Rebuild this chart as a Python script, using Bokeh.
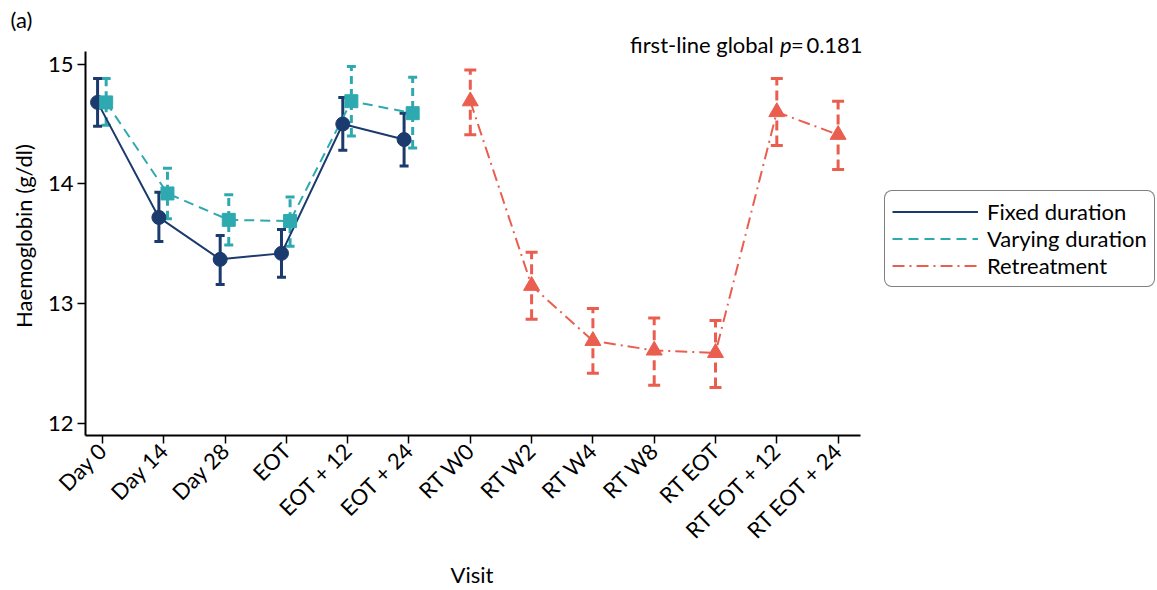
from bokeh.plotting import figure
from bokeh.models import (ColumnDataSource, Whisker, TeeHead, Legend, LegendItem,
                          Label, FixedTicker, Range1d, Title)
from bokeh.embed import file_html
from bokeh.resources import INLINE
import math

visits = ["Day 0", "Day 14", "Day 28", "EOT", "EOT + 12", "EOT + 24",
          "RT W0", "RT W2", "RT W4", "RT W8", "RT EOT", "RT EOT + 12", "RT EOT + 24"]

fixed_mean = [14.68, 13.72, 13.37, 13.42, 14.50, 14.37]
fixed_lo = [14.48, 13.52, 13.16, 13.22, 14.28, 14.15]
fixed_hi = [14.88, 13.93, 13.57, 13.62, 14.72, 14.59]

vary_mean = [14.68, 13.92, 13.70, 13.69, 14.69, 14.59]
vary_lo = [14.49, 13.71, 13.49, 13.48, 14.40, 14.30]
vary_hi = [14.88, 14.13, 13.91, 13.89, 14.98, 14.89]

rt_mean = [14.69, 13.15, 12.69, 12.61, 12.59, 14.60, 14.41]
rt_lo = [14.41, 12.87, 12.42, 12.32, 12.30, 14.32, 14.12]
rt_hi = [14.95, 13.43, 12.96, 12.88, 12.86, 14.88, 14.69]

NAVY = "#1b3a6d"
TEAL = "#2fa9b0"
RED = "#ea5e50"
FONT = "Lato"
FS = "22px"

idx = list(range(len(visits)))
fx = [i - 0.08 for i in idx[:6]]
vx = [i + 0.06 for i in idx[:6]]
rx = idx[6:]

p = figure(width=1157, height=590, output_backend="svg", toolbar_location=None,
           x_range=Range1d(-0.277, 17.21), y_range=Range1d(11.9, 15.23),
           min_border_left=85, min_border_right=0, min_border_top=36,
           min_border_bottom=153)
p.outline_line_color = None
p.grid.grid_line_color = None
p.background_fill_color = "white"

src_f = ColumnDataSource(dict(x=fx, y=fixed_mean, lo=fixed_lo, hi=fixed_hi))
src_v = ColumnDataSource(dict(x=vx, y=vary_mean, lo=vary_lo, hi=vary_hi))
src_r = ColumnDataSource(dict(x=rx, y=rt_mean, lo=rt_lo, hi=rt_hi))

def whisk(src, color, dash, cap):
    w = Whisker(source=src, base="x", upper="hi", lower="lo", dimension="height",
                line_color=color, line_width=3, line_dash=dash,
                upper_head=TeeHead(size=cap, line_color=color, line_width=3),
                lower_head=TeeHead(size=cap, line_color=color, line_width=3))
    p.add_layout(w)

lf = p.line("x", "y", source=src_f, line_color=NAVY, line_width=2)
lv = p.line("x", "y", source=src_v, line_color=TEAL, line_width=2, line_dash="10 6")
lr = p.line("x", "y", source=src_r, line_color=RED, line_width=2, line_dash="12 5 2 5")

whisk(src_v, TEAL, "8 5", 9)
whisk(src_f, NAVY, "solid", 9)
whisk(src_r, RED, "10 5", 12)

p.scatter("x", "y", source=src_f, marker="circle", size=14, fill_color=NAVY, line_color=NAVY)
p.scatter("x", "y", source=src_v, marker="square", size=13, fill_color=TEAL, line_color=TEAL)
p.scatter("x", "y", source=src_r, marker="triangle", size=16, fill_color=RED, line_color=RED)

# axes
p.xaxis.ticker = FixedTicker(ticks=idx)
p.xaxis.major_label_overrides = {i: v for i, v in enumerate(visits)}
p.xaxis.major_label_orientation = math.pi / 4
p.xaxis.bounds = (-0.277, 12.37)
p.yaxis.ticker = FixedTicker(ticks=[12, 13, 14, 15])
p.yaxis.bounds = (11.9, 15.108)
for ax in (p.xaxis[0], p.yaxis[0]):
    ax.axis_line_color = "black"
    ax.axis_line_width = 2
    ax.major_tick_line_color = "black"
    ax.major_tick_line_width = 1.5
    ax.major_tick_out = 8
    ax.major_tick_in = 0
    ax.minor_tick_line_color = None
    ax.major_label_text_font = FONT
    ax.major_label_text_font_size = FS
    ax.major_label_text_color = "black"
    ax.axis_label_text_font = FONT
    ax.axis_label_text_font_size = FS
    ax.axis_label_text_font_style = "normal"
    ax.axis_label_text_color = "black"
p.yaxis.major_label_standoff = 4
p.xaxis.major_label_standoff = 3
p.yaxis.axis_label = "Haemoglobin (g/dl)"
p.yaxis.axis_label_standoff = 8

p.add_layout(Title(text="Visit", align="left", offset=365, standoff=5,
                   text_font=FONT, text_font_size=FS, text_font_style="normal",
                   text_color="black"), "below")

# annotations
p.add_layout(Label(x=12.40, y=15.05, text="=\u20090.181", text_align="right",
                   text_font=FONT, text_font_size=FS, text_color="black"))
p.add_layout(Label(x=11.24, y=15.05, text="p", text_align="right",
                   text_font=FONT, text_font_size=FS, text_font_style="italic",
                   text_color="black"))
p.add_layout(Label(x=10.95, y=15.05, text="first-line global", text_align="right",
                   text_font=FONT, text_font_size=FS, text_color="black"))
p.add_layout(Title(text="(a)", align="left", offset=-75, standoff=7,
                   text_font=FONT, text_font_size=FS, text_font_style="normal",
                   text_color="black"), "above")

legend = Legend(items=[LegendItem(label="Fixed duration", renderers=[lf]),
                       LegendItem(label="Varying duration", renderers=[lv]),
                       LegendItem(label="Retreatment", renderers=[lr])],
                location=(799, 148))
legend.label_text_font = FONT
legend.label_text_font_size = FS
legend.label_text_color = "black"
legend.glyph_width = 86
legend.glyph_height = 21
legend.label_height = 21
legend.spacing = 0
legend.padding = 7
legend.margin = 0
legend.label_standoff = 9
legend.border_line_color = "black"
legend.border_line_width = 1.5
legend.border_radius = 8
legend.background_fill_alpha = 1
p.add_layout(legend, "center")

open("out.html", "w").write(file_html(p, INLINE))
